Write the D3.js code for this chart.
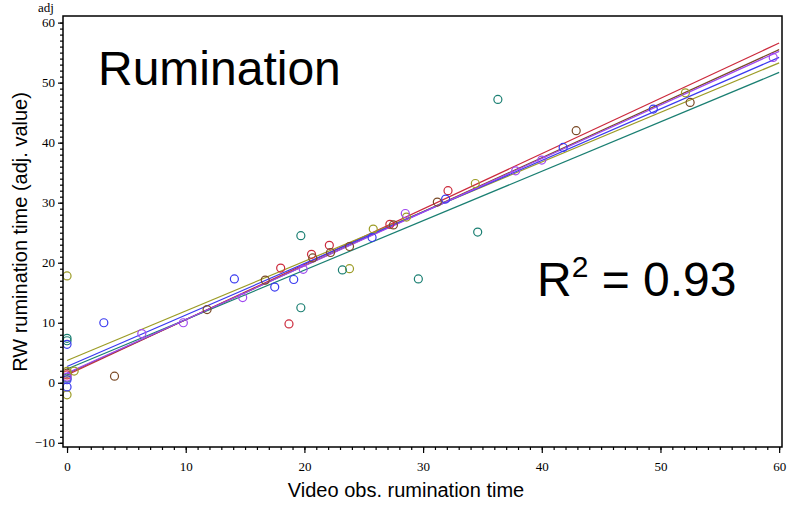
<!DOCTYPE html>
<html><head><meta charset="utf-8">
<script src="https://cdn.jsdelivr.net/npm/d3@7"></script>
<style>body{margin:0;background:#fff}svg{display:block}</style>
</head><body>
<svg id="c" width="788" height="505"></svg>
<script>
// ---- data ----
const groups = ["A", "B", "C", "D", "E", "F"];
const groupColors = ["#cc2a3c", "#7a4a26", "#9c9c26", "#1a7f72", "#3a3af0", "#a048f0"];
const fitAt0 = [1.3, 1.5, 3.7, 2.3, 2.7, 1.6];
const fitAt60 = [56.6, 55.5, 53.3, 51.7, 54.2, 55.2];
const ptsX = [
  [0, 18.0, 18.7, 20.6, 22.1, 27.2, 32.1],
  [0, 4.0, 11.8, 16.7, 20.7, 22.2, 23.8, 27.5, 31.2, 42.9, 52.5],
  [0, 0, 0.6, 0, 23.8, 25.8, 28.6, 34.4, 52.1],
  [0, 0, 0, 19.7, 19.7, 23.2, 29.6, 34.6, 36.3],
  [0, 0, 0, 3.1, 14.1, 17.5, 19.1, 25.7, 31.9, 41.8, 49.4],
  [0, 6.3, 9.8, 14.8, 19.9, 28.5, 37.8, 40.0, 59.5]
];
const ptsY = [
  [1.3, 19.1, 9.8, 21.4, 22.9, 26.4, 32.0],
  [1.6, 1.1, 12.2, 17.1, 20.8, 21.7, 22.7, 26.3, 30.1, 42.0, 46.7],
  [17.8, 1.9, 1.95, -2.0, 19.0, 25.6, 27.6, 33.2, 48.3],
  [7.4, 7.0, 0.8, 24.5, 12.5, 18.8, 17.3, 25.1, 47.2],
  [6.4, 0.5, -0.7, 10.0, 17.3, 15.95, 17.2, 24.2, 30.6, 39.2, 45.6],
  [0.95, 8.2, 10.0, 14.2, 18.9, 28.2, 35.3, 37.1, 54.2]
];
const xTicks = [0, 10, 20, 30, 40, 50, 60];
const yTicks = [-10, 0, 10, 20, 30, 40, 50, 60];
const titleText = "Rumination";
const r2Text = "0.93";
const xLabel = "Video obs. rumination time";
const yLabel = "RW rumination time (adj. value)";

// ---- layout ----
const L = 63, R = 782, T = 16, B = 447;
const svg = d3.select("#c");
const x = d3.scaleLinear().domain([-0.34, 60.24]).range([L, R]);
const y = d3.scaleLinear().domain([-10.7, 61.1]).range([B, T]);
const serif = "'Liberation Serif','Times New Roman',serif";
const sans = "'Liberation Sans',Arial,sans-serif";

// regression lines
const lineGen = d3.line().x(d => x(d[0])).y(d => y(d[1]));
groups.forEach((g, i) => {
  svg.append("path")
    .attr("d", lineGen([[0, fitAt0[i]], [60, fitAt60[i]]]))
    .attr("fill", "none").attr("stroke", groupColors[i]).attr("stroke-width", 1.2);
});
// points
groups.forEach((g, i) => {
  svg.append("g").selectAll("circle")
    .data(ptsX[i].map((v, j) => [v, ptsY[i][j]]))
    .join("circle")
    .attr("cx", d => x(d[0])).attr("cy", d => y(d[1])).attr("r", 4)
    .attr("fill", "none").attr("stroke", groupColors[i]).attr("stroke-width", 1.2);
});

// frame
svg.append("rect").attr("x", L).attr("y", T).attr("width", R - L).attr("height", B - T)
  .attr("fill", "none").attr("stroke", "#000").attr("stroke-width", 1.5);

// axes
const xMinor = d3.range(0, 61, 1);
const yMinor = d3.range(-10, 61, 1);
const gxm = svg.append("g").attr("transform", `translate(0,${B})`)
  .call(d3.axisBottom(x).tickValues(xMinor).tickSize(3).tickFormat(""));
const gx = svg.append("g").attr("transform", `translate(0,${B})`)
  .call(d3.axisBottom(x).tickValues(xTicks).tickSize(6).tickPadding(9).tickFormat(d3.format("d")));
const gym = svg.append("g").attr("transform", `translate(${L},0)`)
  .call(d3.axisLeft(y).tickValues(yMinor).tickSize(3).tickFormat(""));
const gy = svg.append("g").attr("transform", `translate(${L},0)`)
  .call(d3.axisLeft(y).tickValues(yTicks).tickSize(5).tickPadding(3).tickFormat(d3.format("d")));
[gx, gxm, gy, gym].forEach(g => {
  g.select(".domain").remove();
  g.selectAll("line").attr("stroke", "#000").attr("stroke-width", 1.2);
  g.selectAll("text").attr("font-family", serif).attr("font-size", 13).attr("fill", "#000");
});

// texts
svg.append("text").attr("x", 38).attr("y", 12).attr("font-family", serif).attr("font-size", 13).text("adj");
svg.append("text").attr("x", 98).attr("y", 85).attr("font-family", sans).attr("font-size", 48).text(titleText);
const r2 = svg.append("text").attr("x", 537).attr("y", 296).attr("font-family", sans).attr("font-size", 48);
r2.append("tspan").text("R");
r2.append("tspan").attr("font-size", 30).attr("dy", -19).text("2");
r2.append("tspan").attr("dy", 19).text(" = " + r2Text);
svg.append("text").attr("x", 406).attr("y", 497).attr("text-anchor", "middle")
  .attr("font-family", sans).attr("font-size", 20).text(xLabel);
svg.append("text").attr("transform", "translate(27,232) rotate(-90)").attr("text-anchor", "middle")
  .attr("font-family", sans).attr("font-size", 20).text(yLabel);
</script>
</body></html>
